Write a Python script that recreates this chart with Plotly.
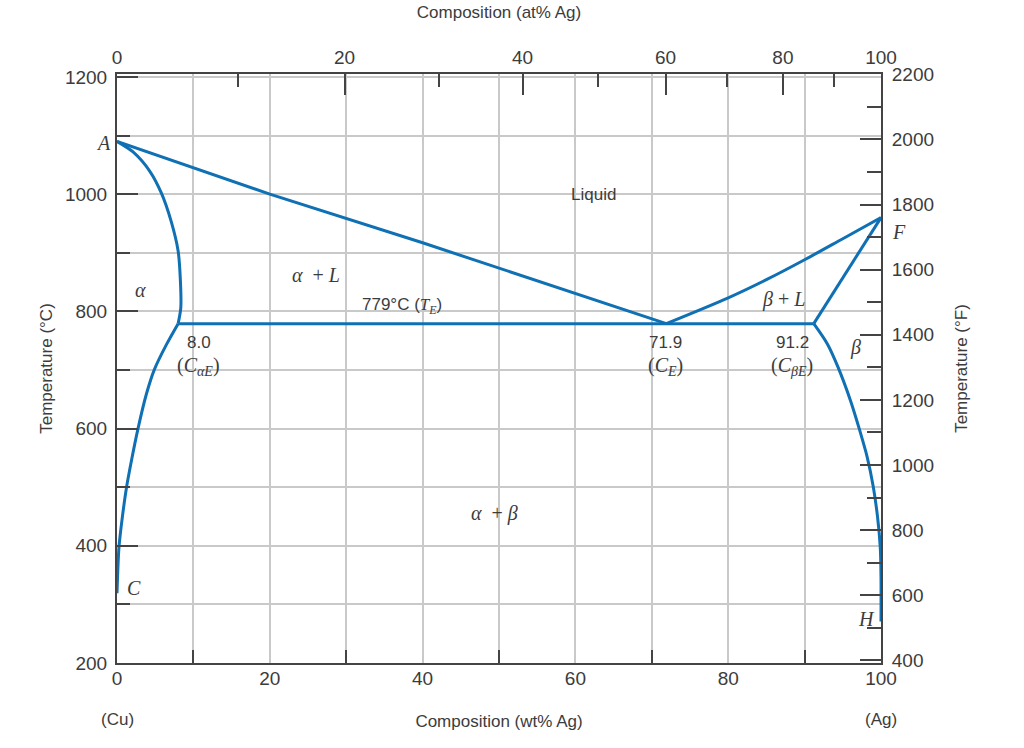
import plotly.graph_objects as go

# ---------------- data (wt% Ag, temperature in °C) ----------------
liq_left_wt = [0, 20, 40, 71.9]
liq_left_T = [1090, 1000, 917, 779]

sol_left_wt = [0, 2.1, 4.3, 5.8, 7.1, 8.0, 8.3, 8.35, 8.0]
sol_left_T = [1090, 1072, 1039, 1002, 953, 903, 852, 806, 779]

solvus_left_wt = [8.0, 6.5, 4.9, 3.85, 2.75, 1.9, 1.25, 0.7, 0.26, 0.0]
solvus_left_T = [779, 744, 701, 659, 600, 546, 500, 449, 398, 319]

liq_right_wt = [71.9, 80, 85, 90, 95, 100]
liq_right_T = [779, 823, 854, 888, 924, 960]

sol_right_wt = [91.2, 100]
sol_right_T = [779, 960]

solvus_right_wt = [91.2, 93.0, 94.4, 96.0, 97.1, 98.2, 99.0, 99.55, 99.9, 100, 100]
solvus_right_T = [779, 744, 704, 648, 602, 551, 500, 449, 398, 347, 271]

eutectic_wt = [8.0, 91.2]
eutectic_T = [779, 779]

# tick labels
wt_ticks = [0, 20, 40, 60, 80, 100]
wt_minor = [10, 30, 50, 70, 90]
at_ticks = [0, 20, 40, 60, 80, 100]
at_minor = [10, 30, 50, 70, 90]
C_ticks = [200, 400, 600, 800, 1000, 1200]
C_minor = [300, 500, 700, 900, 1100]
F_ticks = [400, 600, 800, 1000, 1200, 1400, 1600, 1800, 2000, 2200]
F_minor = [500, 700, 900, 1100, 1300, 1500, 1700, 1900, 2100]

M_AG, M_CU = 107.87, 63.55


def at_to_wt(a):
    return 100.0 * a * M_AG / (a * M_AG + (100 - a) * M_CU)


def f_to_c(f):
    return (f - 32) * 5.0 / 9.0


BLUE = "#0f70b4"
TXT = "#3c3c3c"
AX = "#444444"
GRID = "#c9c9c9"
SANS = "Liberation Sans, Arial, sans-serif"
SERIF = "Liberation Serif, Times New Roman, serif"

fig = go.Figure()
curves = [
    (liq_left_wt, liq_left_T, "linear"),
    (sol_left_wt, sol_left_T, "spline"),
    (solvus_left_wt, solvus_left_T, "spline"),
    (liq_right_wt, liq_right_T, "spline"),
    (sol_right_wt, sol_right_T, "linear"),
    (solvus_right_wt, solvus_right_T, "spline"),
    (eutectic_wt, eutectic_T, "linear"),
]
for xs, ys, shp in curves:
    line = dict(color=BLUE, width=3, shape=shp)
    if shp == "spline":
        line["smoothing"] = 0.8
    fig.add_trace(go.Scatter(x=xs, y=ys, mode="lines", line=line,
                             showlegend=False, hoverinfo="skip"))

# invisible trace to activate the secondary axes
fig.add_trace(go.Scatter(x=[0], y=[200], xaxis="x2", yaxis="y2", mode="markers",
                         marker=dict(opacity=0), showlegend=False, hoverinfo="skip"))

YR = [200, 1205]

fig.update_layout(
    width=1024, height=748,
    margin=dict(l=117, r=143, t=70, b=85),
    paper_bgcolor="white", plot_bgcolor="white",
    font=dict(family=SANS, color=TXT, size=18),
    xaxis=dict(
        range=[0, 100], tickmode="array", tickvals=wt_ticks,
        ticktext=[str(v) for v in wt_ticks], ticks="",
        showgrid=True, gridcolor=GRID, gridwidth=1.5,
        showline=True, linecolor=AX, linewidth=2, zeroline=False,
        minor=dict(tickmode="array", tickvals=wt_minor, ticks="inside",
                   ticklen=13, tickwidth=2, tickcolor=AX, showgrid=True,
                   gridcolor=GRID, gridwidth=1.5),
        tickfont=dict(size=19, color=TXT), ticklabelstandoff=-3,
        title=dict(text="Composition (wt% Ag)", font=dict(size=17, color=TXT), standoff=27),
    ),
    xaxis2=dict(
        overlaying="x", side="top", range=[0, 100], tickmode="array",
        tickvals=[at_to_wt(a) for a in at_ticks], ticktext=[str(a) for a in at_ticks],
        ticks="inside", ticklen=21, tickwidth=2, tickcolor=AX,
        showgrid=False, showline=True, linecolor=AX, linewidth=2, zeroline=False,
        minor=dict(tickmode="array", tickvals=[at_to_wt(a) for a in at_minor],
                   ticks="inside", ticklen=13, tickwidth=2, tickcolor=AX, showgrid=False),
        tickfont=dict(size=19, color=TXT), ticklabelstandoff=0,
        title=dict(text="Composition (at% Ag)", font=dict(size=17, color=TXT), standoff=24),
    ),
    yaxis=dict(
        range=YR, tickmode="array", tickvals=C_ticks, ticktext=[str(v) for v in C_ticks],
        ticks="inside", ticklen=21, tickwidth=2, tickcolor=AX,
        showgrid=True, gridcolor=GRID, gridwidth=1.5,
        showline=True, linecolor=AX, linewidth=2, zeroline=False,
        minor=dict(tickmode="array", tickvals=C_minor, ticks="inside", ticklen=13,
                   tickwidth=2, tickcolor=AX, showgrid=True, gridcolor=GRID, gridwidth=1.5),
        tickfont=dict(size=19, color=TXT), ticklabelstandoff=4,
        title=dict(text="Temperature (°C)", font=dict(size=17, color=TXT), standoff=8),
    ),
    yaxis2=dict(
        overlaying="y", side="right", range=YR, tickmode="array",
        tickvals=[f_to_c(f) for f in F_ticks], ticktext=[str(f) for f in F_ticks],
        ticks="inside", ticklen=21, tickwidth=2, tickcolor=AX,
        showgrid=False, showline=True, linecolor=AX, linewidth=2, zeroline=False,
        minor=dict(tickmode="array", tickvals=[f_to_c(f) for f in F_minor], ticks="inside",
                   ticklen=14, tickwidth=2, tickcolor=AX, showgrid=False),
        tickfont=dict(size=19, color=TXT), ticklabelstandoff=5,
        title=dict(text="Temperature (°F)", font=dict(size=17, color=TXT), standoff=22),
    ),
)

serif = dict(family=SERIF, size=20, color=TXT)
sans = dict(family=SANS, size=17, color=TXT)
labels = [
    # (x wt%, y °C, text, font)
    (3.1, 837, "<i>α</i>", serif),
    (26.0, 862, "<i>α</i>  + <i>L</i>", serif),
    (62.4, 999, "Liquid", sans),
    (87.3, 820, "<i>β</i> + <i>L</i>", serif),
    (96.7, 738, "<i>β</i>", serif),
    (49.4, 455, "<i>α</i>  + <i>β</i>", serif),
    (2.2, 328, "<i>C</i>", serif),
    (98.1, 275, "<i>H</i>", serif),
    (10.7, 747, "8.0", sans),
    (71.8, 747, "71.9", sans),
    (88.4, 747, "91.2", sans),
    (10.7, 706, "(<i>C<sub>αE</sub></i>)", serif),
    (71.8, 706, "(<i>C<sub>E</sub></i>)", serif),
    (88.4, 706, "(<i>C<sub>βE</sub></i>)", serif),
]
for x, y, t, f in labels:
    fig.add_annotation(x=x, y=y, xref="x", yref="y", text=t, showarrow=False, font=f)

# point labels just outside the plot area (paper x, data y)
fig.add_annotation(x=-0.018, y=1087, xref="paper", yref="y", xanchor="center",
                   yanchor="middle", text="<i>A</i>", showarrow=False, font=serif)
fig.add_annotation(x=1.023, y=936, xref="paper", yref="y", xanchor="center",
                   yanchor="middle", text="<i>F</i>", showarrow=False, font=serif)

fig.add_annotation(x=37.3, y=809, xref="x", yref="y", showarrow=False, font=sans,
                   text='779°C (<span style="font-family:Liberation Serif"><i>T<sub>E</sub></i></span>)')

plot_h = 748 - 70 - 85
ypap = (748 - 85 - 720) / plot_h
fig.add_annotation(x=0, y=ypap, xref="x", yref="paper", yanchor="middle",
                   showarrow=False, font=sans, text="(Cu)")
fig.add_annotation(x=100, y=ypap, xref="x", yref="paper", yanchor="middle",
                   showarrow=False, font=sans, text="(Ag)")

fig.write_html("out.html")
